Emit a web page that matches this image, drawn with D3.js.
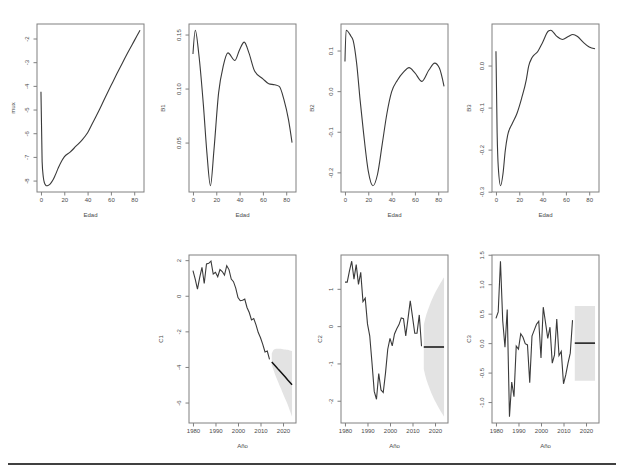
<!DOCTYPE html>
<html><head><meta charset="utf-8">
<script src="https://cdn.jsdelivr.net/npm/d3@7"></script>
<style>
body{margin:0;background:#fff;}
svg{display:block;}
text{font-family:"Liberation Sans",Arial,Helvetica,sans-serif;}
</style>
</head><body>
<svg id="chart" width="626" height="474"></svg>
<script>
// ---------------- DATA ----------------
const edadTicks = [0, 20, 40, 60, 80];
const anioTicks = [1980, 1990, 2000, 2010, 2020];

const muxTicks = [-8, -7, -6, -5, -4, -3, -2];
const muxTickLabels = ["-8", "-7", "-6", "-5", "-4", "-3", "-2"];
const b1Ticks = [0.05, 0.10, 0.15];
const b1TickLabels = ["0.05", "0.10", "0.15"];
const b2Ticks = [-0.2, -0.1, 0.0, 0.1];
const b2TickLabels = ["-0.2", "-0.1", "0.0", "0.1"];
const b3Ticks = [-0.3, -0.2, -0.1, 0.0];
const b3TickLabels = ["-0.3", "-0.2", "-0.1", "0.0"];
const c1Ticks = [-6, -4, -2, 0, 2];
const c1TickLabels = ["-6", "-4", "-2", "0", "2"];
const c2Ticks = [-2, -1, 0, 1];
const c2TickLabels = ["-2", "-1", "0", "1"];
const c3Ticks = [-1.0, -0.5, 0.0, 0.5, 1.0, 1.5];
const c3TickLabels = ["-1.0", "-0.5", "0.0", "0.5", "1.0", "1.5"];

const edadMux = [0, 1, 2, 3, 4, 5, 6, 8, 10, 12, 15, 18, 20, 25, 30, 35, 40, 45, 50, 55, 60, 65, 70, 75, 80, 85];
const mux = [-4.25, -7.2, -7.85, -8.1, -8.19, -8.22, -8.21, -8.14, -8.0, -7.8, -7.45, -7.15, -7.0, -6.8, -6.55, -6.3, -5.98, -5.5, -5.02, -4.5, -4.0, -3.5, -3.02, -2.55, -2.1, -1.65];

const edadB1 = [0, 2, 5, 9, 12, 15, 18, 22, 26, 30, 36, 40, 44, 48, 53, 60, 65, 70, 74, 78, 82, 85];
const b1 = [0.132, 0.154, 0.132, 0.084, 0.040, 0.010, 0.043, 0.096, 0.121, 0.133, 0.126, 0.136, 0.143, 0.133, 0.116, 0.109, 0.1045, 0.1035, 0.102, 0.090, 0.071, 0.050];

const edadB2 = [0, 1, 5, 7, 10, 13, 16, 20, 24, 28, 32, 36, 40, 45, 50, 55, 60, 66, 72, 77, 81, 85];
const b2 = [0.073, 0.150, 0.136, 0.125, 0.069, -0.022, -0.104, -0.197, -0.233, -0.204, -0.130, -0.055, -0.002, 0.027, 0.046, 0.058, 0.045, 0.024, 0.052, 0.069, 0.057, 0.012];

const edadB3 = [0, 1, 2, 4, 6, 8, 10, 14, 18, 22, 26, 28, 31, 36, 40, 45, 47, 52, 57, 62, 66, 70, 75, 80, 85];
const b3 = [0.034, -0.16, -0.242, -0.286, -0.258, -0.202, -0.166, -0.138, -0.114, -0.078, -0.034, -0.002, 0.019, 0.034, 0.055, 0.082, 0.084, 0.070, 0.062, 0.069, 0.074, 0.069, 0.055, 0.044, 0.040];

const anios = [1980, 1981, 1982, 1983, 1984, 1985, 1986, 1987, 1988, 1989, 1990, 1991, 1992, 1993, 1994, 1995, 1996, 1997, 1998, 1999, 2000, 2001, 2002, 2003, 2004, 2005, 2006, 2007, 2008, 2009, 2010, 2011, 2012, 2013, 2014];
const aniosPred = [2015, 2016, 2017, 2018, 2019, 2020, 2021, 2022, 2023, 2024];

const c1 = [1.41, 0.94, 0.37, 1.03, 1.60, 0.69, 1.79, 1.82, 1.94, 1.22, 1.32, 1.07, 1.47, 1.36, 1.16, 1.69, 1.47, 0.94, 0.79, 0.43, -0.10, -0.28, -0.25, -0.19, -0.66, -0.94, -1.36, -1.28, -1.64, -2.07, -2.36, -2.73, -3.16, -3.11, -3.58];
const c1Pred = [-3.72, -3.86, -4.00, -4.15, -4.29, -4.43, -4.57, -4.72, -4.86, -5.00];
const c1Sup = [-3.25, -3.02, -2.98, -2.98, -2.98, -3.00, -3.02, -3.04, -3.07, -3.10];
const c1Inf = [-3.90, -4.25, -4.60, -4.90, -5.20, -5.50, -5.80, -6.10, -6.45, -6.80];

const c2 = [1.18, 1.18, 1.48, 1.74, 1.26, 1.65, 1.12, 1.44, 0.66, 0.75, 0.06, -0.26, -0.98, -1.75, -1.96, -1.27, -1.71, -1.78, -1.26, -0.62, -0.33, -0.53, -0.21, -0.07, 0.04, 0.22, 0.20, -0.26, 0.20, 0.68, 0.25, -0.19, -0.19, 0.30, -0.54];
const c2Pred = [-0.56, -0.56, -0.56, -0.56, -0.56, -0.56, -0.56, -0.56, -0.56, -0.56];
const c2Sup = [0.03, 0.28, 0.46, 0.62, 0.76, 0.89, 1.00, 1.11, 1.21, 1.31];
const c2Inf = [-1.15, -1.40, -1.58, -1.74, -1.88, -2.01, -2.12, -2.23, -2.33, -2.43];

const c3 = [0.42, 0.53, 1.39, 0.38, -0.07, 0.57, -1.25, -0.66, -0.91, -0.05, -0.10, 0.16, 0.10, -0.01, -0.03, -0.67, 0.12, 0.22, 0.32, 0.37, -0.25, 0.61, 0.35, 0.08, 0.27, -0.34, -0.20, 0.41, -0.21, -0.14, -0.69, -0.54, -0.34, -0.17, 0.39];
const c3Pred = [0.0, 0.0, 0.0, 0.0, 0.0, 0.0, 0.0, 0.0, 0.0, 0.0];
const c3Sup = [0.63, 0.63, 0.63, 0.63, 0.63, 0.63, 0.63, 0.63, 0.63, 0.63];
const c3Inf = [-0.64, -0.64, -0.64, -0.64, -0.64, -0.64, -0.64, -0.64, -0.64, -0.64];

// ---------------- DRAWING ----------------
const svg = d3.select("#chart");
const TXT = "#4a4a4a";
const FS = 6;

function padExt(ext) {
  const r = ext[1] - ext[0];
  return [ext[0] - 0.04 * r, ext[1] + 0.04 * r];
}

function drawPanel(p) {
  const {left, top, w, h} = p;
  const yVals = p.y.concat(p.yExtra || []);
  const xVals = p.x.concat(p.xExtra || []);
  const x = d3.scaleLinear().domain(padExt(d3.extent(xVals))).range([left, left + w]);
  const y = d3.scaleLinear().domain(padExt(d3.extent(yVals))).range([top + h, top]);
  const g = svg.append("g");

  // forecast band
  if (p.band) {
    const bd = p.band.x.map((v, i) => ({x: v, hi: p.band.hi[i], lo: p.band.lo[i]}));
    g.append("path")
      .attr("d", d3.area().x(d => x(d.x)).y0(d => y(d.lo)).y1(d => y(d.hi)).curve(d3.curveMonotoneX)(bd))
      .attr("fill", "#e3e3e3").attr("stroke", "none");
  }

  // main line
  const pts = p.x.map((v, i) => [v, p.y[i]]);
  g.append("path")
    .attr("d", d3.line().x(d => x(d[0])).y(d => y(d[1])).curve(p.smooth ? d3.curveMonotoneX : d3.curveLinear)(pts))
    .attr("fill", "none").attr("stroke", "#3a3a3a").attr("stroke-width", 1.1);

  if (p.pred) {
    const pp = p.pred.x.map((v, i) => [v, p.pred.y[i]]);
    g.append("path")
      .attr("d", d3.line().x(d => x(d[0])).y(d => y(d[1]))(pp))
      .attr("fill", "none").attr("stroke", p.pred.color).attr("stroke-width", p.pred.width);
  }

  // box
  g.append("rect").attr("x", left).attr("y", top).attr("width", w).attr("height", h)
    .attr("fill", "none").attr("stroke", "#808080").attr("stroke-width", 1);

  // x axis
  const xa = g.append("g").attr("transform", `translate(0,${top + h})`)
    .call(d3.axisBottom(x).tickValues(p.xTicks).tickFormat(d3.format("d")).tickSize(3.5).tickPadding(2));
  xa.select(".domain").remove();
  xa.selectAll("line").attr("stroke", "#808080");
  xa.selectAll("text").attr("font-size", FS).attr("fill", TXT).attr("y", 9.5).attr("dy", "0");

  // y axis
  const ya = g.append("g").attr("transform", `translate(${left},0)`)
    .call(d3.axisLeft(y).tickValues(p.yTicks).tickFormat((d, i) => p.yTickLabels[i]).tickSize(3.5));
  ya.select(".domain").remove();
  ya.selectAll("line").attr("stroke", "#808080");
  ya.selectAll("text").attr("font-size", FS).attr("fill", TXT)
    .attr("x", 0).attr("y", -8).attr("dy", "0")
    .attr("text-anchor", "middle").attr("transform", "rotate(-90)");

  // titles
  g.append("text").attr("x", left + w / 2).attr("y", top + h + 25)
    .attr("text-anchor", "middle").attr("font-size", FS).attr("fill", TXT).text(p.xLabel);
  g.append("text").attr("transform", `translate(${left - p.yLabOff},${top + h / 2}) rotate(-90)`)
    .attr("text-anchor", "middle").attr("font-size", FS).attr("fill", TXT).text(p.yLabel);
}

const colL = [37, 189, 341, 492];
const PW = 107, PH = 168;
const rowT = [24, 255];

const panels = [
  {left: colL[0], top: rowT[0], x: edadMux, y: mux, smooth: true, xTicks: edadTicks, yTicks: muxTicks, yTickLabels: muxTickLabels, xLabel: "Edad", yLabel: "mux", yLabOff: 22},
  {left: colL[1], top: rowT[0], x: edadB1, y: b1, smooth: true, xTicks: edadTicks, yTicks: b1Ticks, yTickLabels: b1TickLabels, xLabel: "Edad", yLabel: "B1", yLabOff: 24},
  {left: colL[2], top: rowT[0], x: edadB2, y: b2, smooth: true, xTicks: edadTicks, yTicks: b2Ticks, yTickLabels: b2TickLabels, xLabel: "Edad", yLabel: "B2", yLabOff: 27},
  {left: colL[3], top: rowT[0], x: edadB3, y: b3, smooth: true, xTicks: edadTicks, yTicks: b3Ticks, yTickLabels: b3TickLabels, xLabel: "Edad", yLabel: "B3", yLabOff: 21},
  {left: colL[1], top: rowT[1], x: anios, y: c1, xExtra: aniosPred, yExtra: c1Sup.concat(c1Inf),
   band: {x: aniosPred, hi: c1Sup, lo: c1Inf}, pred: {x: aniosPred, y: c1Pred, color: "#111", width: 1.5},
   xTicks: anioTicks, yTicks: c1Ticks, yTickLabels: c1TickLabels, xLabel: "Año", yLabel: "C1", yLabOff: 26},
  {left: colL[2], top: rowT[1], x: anios, y: c2, xExtra: aniosPred, yExtra: c2Sup.concat(c2Inf),
   band: {x: aniosPred, hi: c2Sup, lo: c2Inf}, pred: {x: aniosPred, y: c2Pred, color: "#444", width: 2},
   xTicks: anioTicks, yTicks: c2Ticks, yTickLabels: c2TickLabels, xLabel: "Año", yLabel: "C2", yLabOff: 19},
  {left: colL[3], top: rowT[1], x: anios, y: c3, xExtra: aniosPred, yExtra: c3Sup.concat(c3Inf),
   band: {x: aniosPred, hi: c3Sup, lo: c3Inf}, pred: {x: aniosPred, y: c3Pred, color: "#222", width: 1.6},
   xTicks: anioTicks, yTicks: c3Ticks, yTickLabels: c3TickLabels, xLabel: "Año", yLabel: "C3", yLabOff: 21}
];

panels.forEach(p => { p.w = PW; p.h = PH; drawPanel(p); });

// bottom rule
svg.append("line").attr("x1", 8).attr("x2", 616).attr("y1", 464).attr("y2", 464)
  .attr("stroke", "#000").attr("stroke-width", 1.6);
</script>
</body></html>
